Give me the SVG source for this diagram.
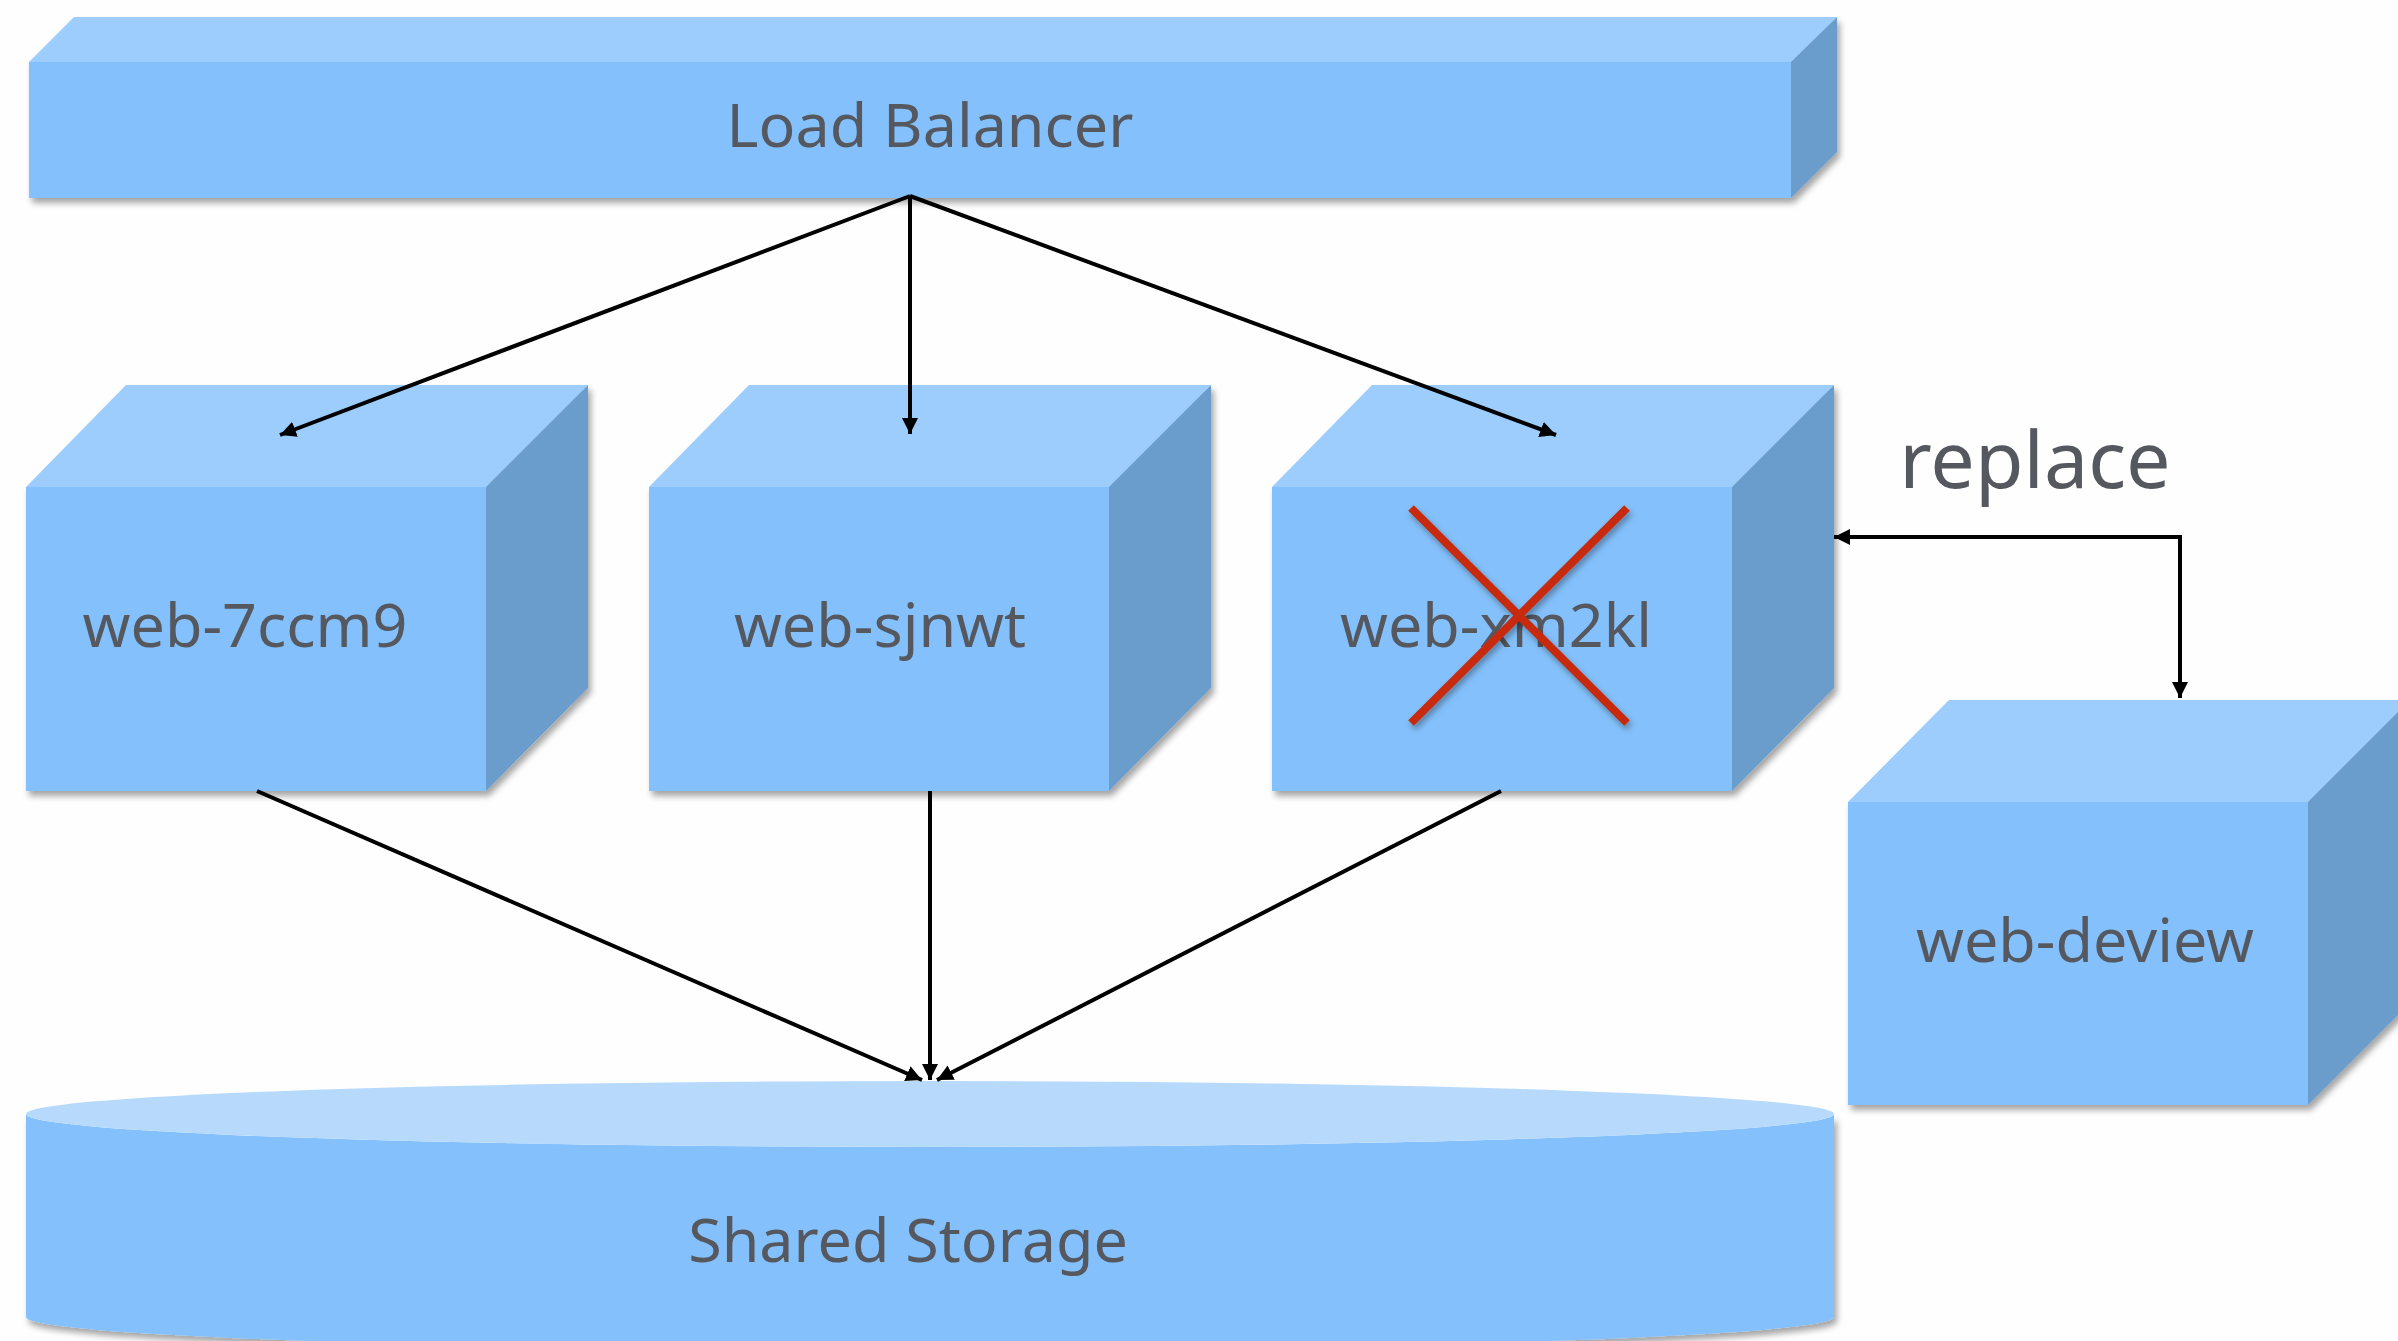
<svg xmlns="http://www.w3.org/2000/svg" width="2398" height="1341" viewBox="0 0 2398 1341">
<style>
.front{fill:#84c1fc}
.top{fill:#9ccdfc}
.side{fill:#6a9dcb}
.ctop{fill:#b7dafc}
.lbl{font-family:"Noto Sans","Open Sans",sans-serif;font-size:61px;fill:#55585f;text-anchor:middle}
.conn{stroke:#000;stroke-width:4;fill:none}
.cross{stroke:#c8290c;stroke-width:8;stroke-linecap:butt}
</style>
<defs>
<filter id="sh" x="-10%" y="-10%" width="120%" height="130%">
<feDropShadow dx="3" dy="5" stdDeviation="3" flood-color="#000" flood-opacity="0.35"/>
</filter>
<filter id="shx" x="-20%" y="-20%" width="140%" height="140%">
<feDropShadow dx="2" dy="4" stdDeviation="3" flood-color="#000" flood-opacity="0.35"/>
</filter>
<marker id="ah" markerUnits="userSpaceOnUse" markerWidth="17" markerHeight="17" viewBox="0 0 17 17" refX="16" refY="8.5" orient="auto-start-reverse">
<path d="M0,0.5 L16,8.5 L0,16.5 Z" fill="#000"/>
</marker>
</defs>
<rect width="2398" height="1341" fill="#fefefe"/>

<g id="load-balancer" filter="url(#sh)">
<polygon class="top" points="29,62 74,17 1837,17 1791,62"/>
<polygon class="side" points="1791,62 1837,17 1837,152 1791,198"/>
<rect class="front" x="29" y="62" width="1762" height="136"/>
<text class="lbl" x="930" y="147">Load Balancer</text>
</g>

<g id="web-7ccm9" filter="url(#sh)">
<polygon class="top" points="26,487 126,385 588,385 486,487"/>
<polygon class="side" points="486,487 588,385 588,688 486,791"/>
<rect class="front" x="26" y="487" width="460" height="304"/>
<text class="lbl" x="245" y="647">web-7ccm9</text>
</g>

<g id="web-sjnwt" filter="url(#sh)">
<polygon class="top" points="649,487 749,385 1211,385 1109,487"/>
<polygon class="side" points="1109,487 1211,385 1211,688 1109,791"/>
<rect class="front" x="649" y="487" width="460" height="304"/>
<text class="lbl" x="880" y="647">web-sjnwt</text>
</g>

<g id="web-xm2kl">
<g filter="url(#sh)">
<polygon class="top" points="1272,487 1372,385 1834,385 1732,487"/>
<polygon class="side" points="1732,487 1834,385 1834,688 1732,791"/>
<rect class="front" x="1272" y="487" width="460" height="304"/>
</g>
<text class="lbl" x="1496" y="647">web-xm2kl</text>
<g filter="url(#shx)">
<line class="cross" x1="1411" y1="508" x2="1627" y2="723"/>
<line class="cross" x1="1627" y1="508" x2="1411" y2="723"/>
</g>
</g>

<g id="web-deview" filter="url(#sh)">
<polygon class="top" points="1848,802 1949,700 2410,700 2308,802"/>
<polygon class="side" points="2308,802 2410,700 2410,1003 2308,1105"/>
<rect class="front" x="1848" y="802" width="460" height="303"/>
<text class="lbl" x="2085" y="962">web-deview</text>
</g>

<g id="shared-storage">
<path class="front" filter="url(#sh)" d="M26,1114 V1317 A904,33 0 0 0 1834,1317 V1114 A904,33 0 0 1 26,1114 Z"/>
<ellipse class="ctop" cx="930" cy="1114" rx="904" ry="33"/>
<text class="lbl" x="908" y="1262">Shared Storage</text>
</g>

<g id="replace-label">
<text x="2035" y="488" style="font-family:'Noto Sans','Open Sans',sans-serif;font-size:79px;fill:#55585f;text-anchor:middle">replace</text>
</g>

<g id="connectors">
<line class="conn" x1="910" y1="196" x2="280" y2="435" marker-end="url(#ah)"/>
<line class="conn" x1="910" y1="196" x2="910" y2="434" marker-end="url(#ah)"/>
<line class="conn" x1="910" y1="196" x2="1556" y2="435" marker-end="url(#ah)"/>
<line class="conn" x1="257" y1="791" x2="922" y2="1080" marker-end="url(#ah)"/>
<line class="conn" x1="930" y1="791" x2="930" y2="1080" marker-end="url(#ah)"/>
<line class="conn" x1="1501" y1="791" x2="937" y2="1080" marker-end="url(#ah)"/>
<path class="conn" d="M1834,537 H2180 V698" marker-start="url(#ah)" marker-end="url(#ah)"/>
</g>
</svg>
